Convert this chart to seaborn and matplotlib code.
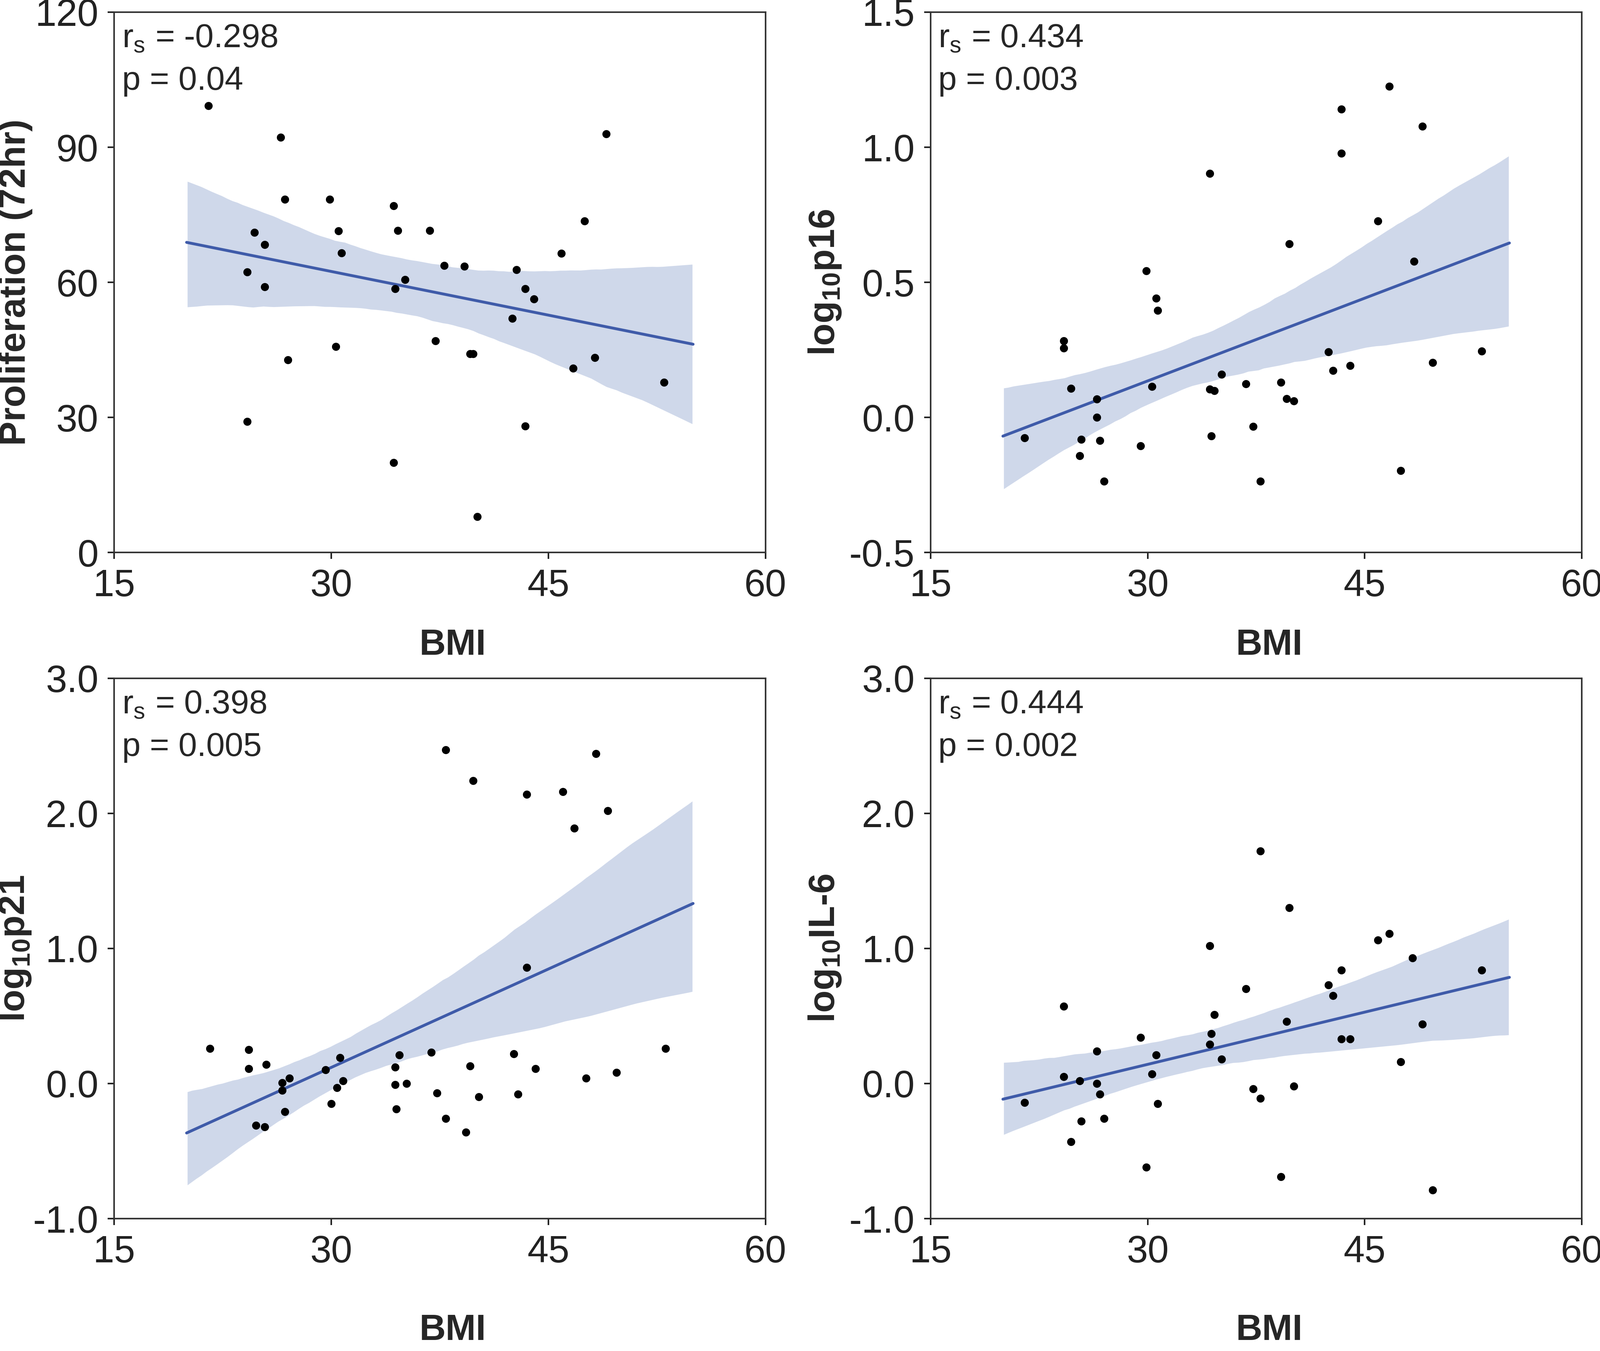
import numpy as np
import matplotlib
matplotlib.use("Agg")
import matplotlib.pyplot as plt
import seaborn as sns

# values
prolif_bmi = [21.5, 26.5, 49.0, 26.8, 29.9, 34.3, 24.7, 30.5, 34.6, 36.8, 47.5, 25.4,
              30.7, 45.9, 24.2, 37.8, 39.2, 42.8, 35.1, 25.4, 34.4, 43.4, 44.0, 42.5,
              37.2, 30.3, 39.6, 39.8, 27.0, 48.2, 46.7, 53.0, 24.2, 43.4, 34.3, 40.1]
prolif = [99.2, 92.2, 93.0, 78.4, 78.4, 77.0, 71.1, 71.4, 71.5, 71.5, 73.6, 68.4,
          66.5, 66.4, 62.3, 63.7, 63.6, 62.8, 60.6, 59.0, 58.6, 58.6, 56.3, 52.0,
          47.0, 45.7, 44.1, 44.1, 42.8, 43.3, 40.9, 37.8, 29.1, 28.1, 20.0, 8.0]

p16_bmi = [46.7, 43.4, 49.0, 43.4, 34.3, 45.9, 39.8, 29.9, 48.4, 30.6, 30.7, 24.2, 24.2,
           24.7, 30.3, 35.1, 34.3, 34.6, 36.8, 39.2, 39.6, 40.1, 42.5, 42.8, 44.0, 49.7,
           53.1, 26.5, 26.5, 21.5, 25.4, 26.7, 25.3, 27.0, 29.5, 34.4, 37.3, 37.8, 47.5]
p16 = [1.226, 1.141, 1.078, 0.977, 0.903, 0.727, 0.642, 0.542, 0.578, 0.441, 0.396, 0.284,
       0.257, 0.108, 0.115, 0.159, 0.104, 0.099, 0.124, 0.130, 0.069, 0.061, 0.242, 0.174,
       0.192, 0.203, 0.246, 0.068, 0.0, -0.076, -0.082, -0.086, -0.142, -0.236, -0.105,
       -0.069, -0.034, -0.236, -0.197]

p21_bmi = [37.9, 48.3, 39.8, 43.5, 46.0, 49.1, 46.8, 43.5, 21.6, 24.3, 53.1, 25.5, 24.3,
           30.6, 29.6, 34.7, 36.9, 34.4, 42.6, 39.6, 44.1, 26.6, 27.1, 26.6, 30.8, 30.4,
           34.4, 35.2, 47.6, 49.7, 30.0, 26.8, 34.5, 37.3, 40.2, 42.9, 24.8, 25.4, 37.9, 39.3]
p21 = [2.47, 2.44, 2.24, 2.14, 2.16, 2.02, 1.89, 0.86, 0.26, 0.25, 0.26, 0.14, 0.11,
       0.19, 0.10, 0.21, 0.23, 0.12, 0.22, 0.13, 0.11, 0.005, 0.04, -0.05, 0.02, -0.03,
       -0.01, 0.00, 0.04, 0.08, -0.15, -0.21, -0.19, -0.07, -0.10, -0.08, -0.31, -0.32,
       -0.26, -0.36]

il6_bmi = [37.8, 39.8, 46.7, 45.9, 34.3, 48.3, 43.4, 53.1, 36.8, 42.5, 42.8, 24.2, 34.6,
           39.6, 49.0, 29.5, 34.4, 34.3, 43.4, 44.0, 26.5, 30.6, 35.1, 47.5, 24.2, 25.3,
           26.5, 30.3, 26.7, 21.5, 30.7, 37.3, 37.8, 40.1, 25.4, 27.0, 24.7, 29.9, 39.2, 49.7]
il6 = [1.72, 1.30, 1.11, 1.06, 1.02, 0.93, 0.84, 0.84, 0.70, 0.73, 0.65, 0.57, 0.51,
       0.46, 0.44, 0.34, 0.37, 0.29, 0.33, 0.33, 0.24, 0.21, 0.18, 0.16, 0.05, 0.02,
       0.00, 0.07, -0.08, -0.14, -0.15, -0.04, -0.11, -0.02, -0.28, -0.26, -0.43, -0.62,
       -0.69, -0.79]

ylabels = ["Proliferation (72hr)", "log$_{\\mathbf{10}}$p16",
           "log$_{\\mathbf{10}}$p21", "log$_{\\mathbf{10}}$IL-6"]
rs_text = ["-0.298", "0.434", "0.398", "0.444"]
p_text = ["0.04", "0.003", "0.005", "0.002"]
xticks = [15, 30, 45, 60]
yticks = [[0, 30, 60, 90, 120], [-0.5, 0.0, 0.5, 1.0, 1.5],
          [-1.0, 0.0, 1.0, 2.0, 3.0], [-1.0, 0.0, 1.0, 2.0, 3.0]]
yfmt = ["{:.0f}", "{:.1f}", "{:.1f}", "{:.1f}"]

sns.set_style("ticks")
plt.rcParams["font.family"] = ["Liberation Sans", "DejaVu Sans"]
plt.rcParams["axes.unicode_minus"] = False
plt.rcParams["mathtext.fontset"] = "custom"
plt.rcParams["mathtext.bf"] = "Liberation Sans:bold"
plt.rcParams["mathtext.rm"] = "Liberation Sans"

fig = plt.figure(figsize=(4207 / 300, 3551 / 300), dpi=300)
positions = [[0.0714, 0.591, 0.407, 0.400], [0.5816, 0.591, 0.407, 0.400],
             [0.0714, 0.098, 0.407, 0.400], [0.5816, 0.098, 0.407, 0.400]]
data = [(prolif_bmi, prolif), (p16_bmi, p16), (p21_bmi, p21), (il6_bmi, il6)]

line_color = "#3F5BA9"
band_color = "#CFD8EA"

for i, (bmi, vals) in enumerate(data):
    ax = fig.add_axes(positions[i])
    ax.set_xlim(20, 55)  # fitted line spans 20-55
    sns.regplot(x=np.array(bmi), y=np.array(vals), ax=ax, scatter=False,
                truncate=False, color=line_color, seed=0,
                line_kws={"lw": 1.8, "zorder": 2})
    for coll in ax.collections:
        coll.set_facecolor(band_color)
        coll.set_alpha(1)
        coll.set_zorder(1)
    sns.scatterplot(x=bmi, y=vals, ax=ax, color="black", s=26,
                    linewidth=0, zorder=3)

    ax.set_xlim(15, 60)
    ax.set_ylim(yticks[i][0], yticks[i][-1])
    ax.set_xticks(xticks)
    ax.set_xticklabels([str(t) for t in xticks])
    ax.set_yticks(yticks[i])
    ax.set_yticklabels([yfmt[i].format(t) for t in yticks[i]])
    ax.tick_params(direction="out", length=4, width=1, pad=6, labelsize=24,
                   colors="#222222")
    for sp in ax.spines.values():
        sp.set_visible(True)
        sp.set_linewidth(1.0)
        sp.set_color("#333333")

    ax.set_xlabel("BMI", fontsize=23, fontweight="bold")
    ax.xaxis.set_label_coords(0.52, -0.14 if i < 2 else -0.175)
    ax.set_ylabel(ylabels[i], fontsize=23, fontweight="bold")
    ax.yaxis.set_label_coords(-0.125 if i % 2 == 0 else -0.135, 0.5)

    ax.text(0.012, 0.951, "r$_\\mathregular{s}$ = " + rs_text[i], transform=ax.transAxes,
            fontsize=21, va="center", ha="left")
    ax.text(0.012, 0.872, "p = " + p_text[i], transform=ax.transAxes,
            fontsize=21, va="center", ha="left")

fig.savefig("out.png", dpi=300)
